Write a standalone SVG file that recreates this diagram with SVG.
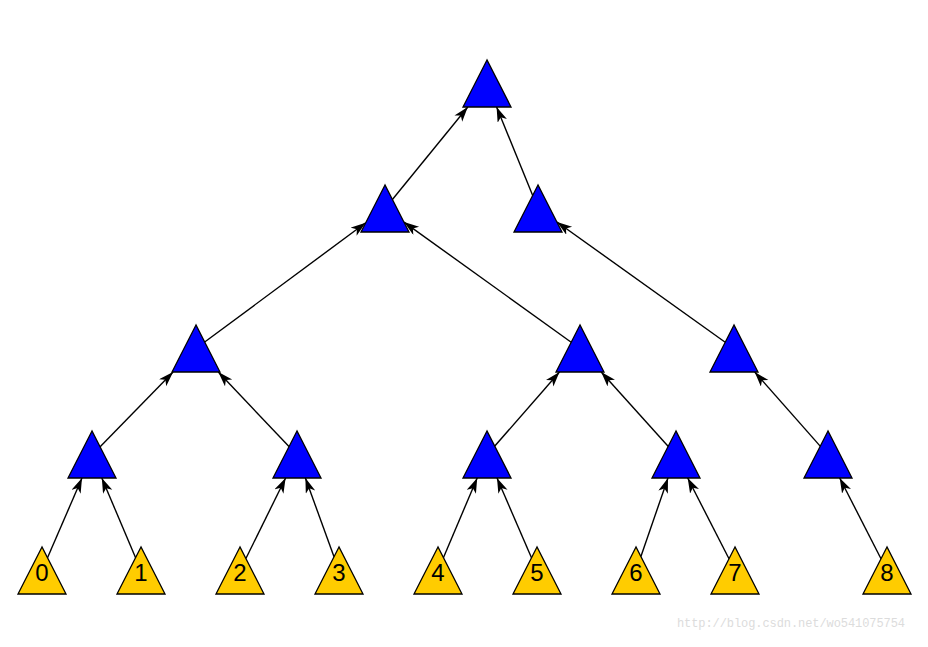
<svg xmlns="http://www.w3.org/2000/svg" width="928" height="647" viewBox="0 0 928 647">
<style>
.b{fill:#0000ff;stroke:#000;stroke-width:1.3}
.y{fill:#ffcc00;stroke:#000;stroke-width:1.3}
.e{stroke:#000;stroke-width:1.4;fill:none;marker-end:url(#a)}
.t{font-family:"Liberation Sans",Arial,sans-serif;font-size:24px;fill:#000;text-anchor:middle}
.w{font-family:"Liberation Mono","Courier New",monospace;font-size:12px;fill:#dcdcdc}
</style>
<defs>
<marker id="a" markerUnits="userSpaceOnUse" markerWidth="16" markerHeight="12" refX="15" refY="5" orient="auto">
<path d="M0,0 L15,5 L0,10 L4,5 Z" fill="#000"/>
</marker>
</defs>
<rect width="928" height="647" fill="#fff"/>
<g id="edges">
<line class="e" x1="47.5" y1="557.8" x2="82" y2="478"/>
<line class="e" x1="135.6" y1="557.7" x2="101.8" y2="478"/>
<line class="e" x1="245.9" y1="558.5" x2="285.6" y2="478"/>
<line class="e" x1="334" y1="556.8" x2="305.4" y2="478"/>
<line class="e" x1="443.4" y1="557.7" x2="477.2" y2="478"/>
<line class="e" x1="531.5" y1="557.8" x2="497" y2="478"/>
<line class="e" x1="640.9" y1="556.5" x2="668" y2="478"/>
<line class="e" x1="729" y1="558.8" x2="687.7" y2="478"/>
<line class="e" x1="881" y1="558.8" x2="839.7" y2="478"/>
<line class="e" x1="99.9" y1="446.9" x2="173.1" y2="372"/>
<line class="e" x1="289.2" y1="446.8" x2="218.3" y2="372"/>
<line class="e" x1="494.6" y1="446.3" x2="559.5" y2="372"/>
<line class="e" x1="668.3" y1="446.5" x2="601.2" y2="372"/>
<line class="e" x1="820.4" y1="446.4" x2="754.7" y2="372"/>
<line class="e" x1="204.7" y1="342" x2="365.7" y2="222.8"/>
<line class="e" x1="571.2" y1="342.2" x2="404" y2="222.1"/>
<line class="e" x1="725.2" y1="342.2" x2="557" y2="222"/>
<line class="e" x1="392.4" y1="199.5" x2="467.8" y2="107"/>
<line class="e" x1="532.7" y1="195.4" x2="496.6" y2="107"/>
</g>
<g id="K"><polygon class="b" points="487,60 463,107 511,107"/></g>
<g id="I"><polygon class="b" points="385,185 361,232 409,232"/></g>
<g id="J"><polygon class="b" points="538,185 514,232 562,232"/></g>
<g id="F"><polygon class="b" points="196,325 172,372 220,372"/></g>
<g id="G"><polygon class="b" points="580,325 556,372 604,372"/></g>
<g id="H"><polygon class="b" points="734,325 710,372 758,372"/></g>
<g id="A"><polygon class="b" points="92,431 68,478 116,478"/></g>
<g id="B"><polygon class="b" points="297,431 273,478 321,478"/></g>
<g id="C"><polygon class="b" points="487,431 463,478 511,478"/></g>
<g id="D"><polygon class="b" points="676,431 652,478 700,478"/></g>
<g id="E"><polygon class="b" points="828,431 804,478 852,478"/></g>
<g id="n0"><polygon class="y" points="42,547 18,594 66,594"/><text class="t" x="42" y="581">0</text></g>
<g id="n1"><polygon class="y" points="141,547 117,594 165,594"/><text class="t" x="141" y="581">1</text></g>
<g id="n2"><polygon class="y" points="240,547 216,594 264,594"/><text class="t" x="240" y="581">2</text></g>
<g id="n3"><polygon class="y" points="339,547 315,594 363,594"/><text class="t" x="339" y="581">3</text></g>
<g id="n4"><polygon class="y" points="438,547 414,594 462,594"/><text class="t" x="438" y="581">4</text></g>
<g id="n5"><polygon class="y" points="537,547 513,594 561,594"/><text class="t" x="537" y="581">5</text></g>
<g id="n6"><polygon class="y" points="636,547 612,594 660,594"/><text class="t" x="636" y="581">6</text></g>
<g id="n7"><polygon class="y" points="735,547 711,594 759,594"/><text class="t" x="735" y="581">7</text></g>
<g id="n8"><polygon class="y" points="887,547 863,594 911,594"/><text class="t" x="887" y="581">8</text></g>
<text class="w" x="677" y="627" textLength="228">http://blog.csdn.net/wo541075754</text>
</svg>
